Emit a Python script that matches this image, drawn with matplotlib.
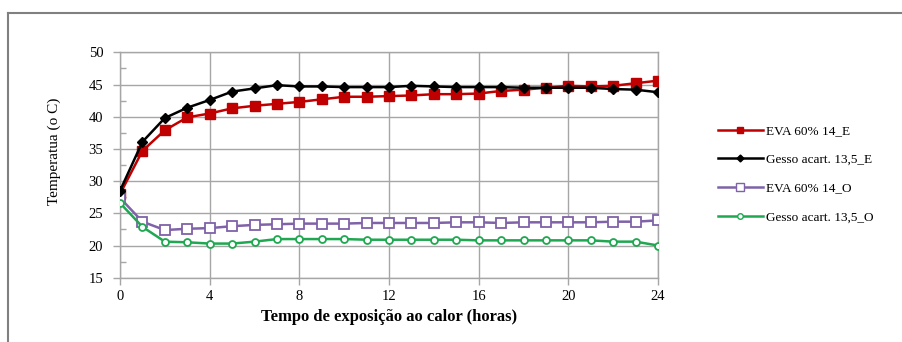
import numpy as np
import matplotlib
matplotlib.use('Agg')
from matplotlib import pyplot as plt
from matplotlib.lines import Line2D

horas = list(range(0, 25))

eva_e = [28.0, 34.7, 37.9, 39.9, 40.5, 41.3, 41.7, 42.0, 42.3, 42.7, 43.1, 43.1, 43.2,
         43.3, 43.5, 43.5, 43.6, 44.0, 44.2, 44.5, 44.8, 44.7, 44.8, 45.2, 45.6]
gesso_e = [28.5, 36.1, 39.8, 41.4, 42.6, 43.9, 44.4, 44.9, 44.7, 44.7, 44.6, 44.6, 44.6,
           44.8, 44.7, 44.6, 44.6, 44.6, 44.5, 44.5, 44.5, 44.5, 44.3, 44.2, 43.8]
eva_o = [27.4, 23.7, 22.4, 22.6, 22.7, 23.0, 23.2, 23.3, 23.4, 23.4, 23.4, 23.5, 23.5,
         23.5, 23.5, 23.6, 23.6, 23.5, 23.6, 23.6, 23.6, 23.6, 23.7, 23.7, 23.9]
gesso_o = [26.6, 22.9, 20.6, 20.5, 20.3, 20.3, 20.6, 21.0, 21.0, 21.0, 21.0, 20.9, 20.9,
           20.9, 20.9, 20.9, 20.8, 20.8, 20.8, 20.8, 20.8, 20.8, 20.6, 20.6, 20.0]

nomes = ['EVA 60% 14_E', 'Gesso acart. 13,5_E', 'EVA 60% 14_O', 'Gesso acart. 13,5_O']

plt.rcParams['font.family'] = ['Liberation Serif', 'DejaVu Serif']

fig = plt.figure(figsize=(9.03, 3.42), dpi=100)
ax = fig.add_axes([0.1329, 0.188, 0.5958, 0.659])

ax.plot(horas, eva_e, color='#C00000', lw=1.8, marker='s', ms=6.5, mfc='#C00000', mec='#C00000', zorder=4)
ax.plot(horas, gesso_e, color='black', lw=1.8, marker='D', ms=5, mfc='black', mec='black', zorder=5)
ax.plot(horas, eva_o, color='#7F62A8', lw=1.8, marker='s', ms=7, mfc='white', mec='#7F62A8', mew=1.3, zorder=4)
ax.plot(horas, gesso_o, color='#1FA851', lw=1.8, marker='o', ms=5, mfc='white', mec='#1FA851', mew=1.3, zorder=4)

ax.set_xlim(0, 24)
ax.set_ylim(15, 50)
ax.set_xticks(range(0, 25, 4))
ax.set_yticks(range(15, 51, 5))
ax.set_yticks(np.arange(17.5, 50, 5), minor=True)
ax.grid(True, which='major', color='#a6a6a6', lw=1.0)
ax.set_axisbelow(True)
for s in ax.spines.values():
    s.set_color('#a6a6a6')
    s.set_linewidth(1.0)
ax.tick_params(axis='both', which='major', colors='#a6a6a6', labelcolor='black', labelsize=10.5, length=5, width=1)
ax.tick_params(axis='y', which='major', pad=7)
ax.tick_params(axis='y', which='minor', direction='in', colors='#a6a6a6', length=4, width=1)

ax.set_xlabel('Tempo de exposição ao calor (horas)', fontsize=12, fontweight='bold', labelpad=5)
ax.set_ylabel('Temperatua (o C)', fontsize=11)
ax.yaxis.set_label_coords(-0.11, 0.56)

handles = [
    Line2D([], [], color='#C00000', lw=1.8, marker='s', ms=5, mfc='#C00000', mec='#C00000'),
    Line2D([], [], color='black', lw=1.8, marker='D', ms=3.5, mfc='black', mec='black'),
    Line2D([], [], color='#7F62A8', lw=1.8, marker='s', ms=6, mfc='white', mec='#7F62A8'),
    Line2D([], [], color='#1FA851', lw=1.8, marker='o', ms=4, mfc='white', mec='#1FA851'),
]
fig.legend(handles, nomes, loc='upper left', bbox_to_anchor=(0.789, 0.65), frameon=False,
           fontsize=9.5, handlelength=3.4, labelspacing=1.25, handletextpad=0.25, borderaxespad=0)

# moldura cinza ao redor do grafico
fig.add_artist(Line2D([8 / 903, 1.0], [1 - 13 / 342] * 2, color='#808080', lw=1.5, transform=fig.transFigure))
fig.add_artist(Line2D([8 / 903] * 2, [0.0, 1 - 13 / 342], color='#808080', lw=1.5, transform=fig.transFigure))

fig.savefig('out.png', dpi=100)
